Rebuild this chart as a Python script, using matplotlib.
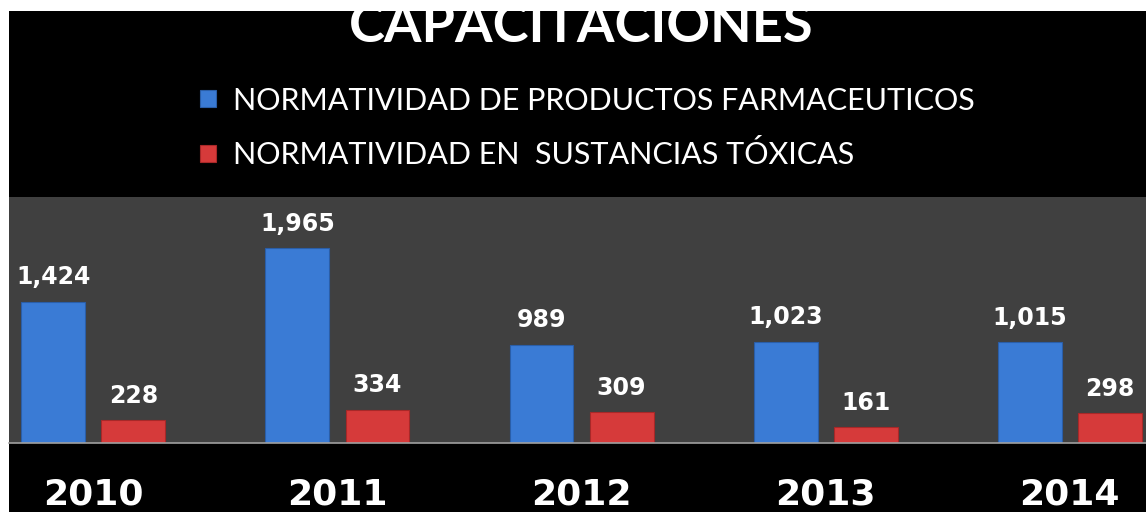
import numpy as np
import matplotlib.pyplot as plt
from matplotlib.patches import Rectangle

years = ["2010", "2011", "2012", "2013", "2014"]
farmaceuticos = [1424, 1965, 989, 1023, 1015]
toxicas = [228, 334, 309, 161, 298]
series_names = ["NORMATIVIDAD DE PRODUCTOS FARMACEUTICOS",
                "NORMATIVIDAD EN  SUSTANCIAS TÓXICAS"]

blue = "#3a7bd5"
red = "#d63a3a"

fig = plt.figure(figsize=(11.46, 5.12), dpi=100)
fig.patch.set_facecolor("white")
# black panel, white strip on top and left
fig.patches.append(Rectangle((9/1146, 0), 1, 1 - 11/512, transform=fig.transFigure,
                             facecolor="black", edgecolor="none", zorder=-10))

ax = fig.add_axes([9/1146, 69/512, 1 - 9/1146, 246/512])
ax.set_facecolor("#404040")

x = np.arange(len(years))
w = 0.262
off = 0.164
b1 = ax.bar(x - off, farmaceuticos, w, color=blue, edgecolor="#2a5ea8", linewidth=0.8,
            label=series_names[0])
b2 = ax.bar(x + off, toxicas, w, color=red, edgecolor="#a82828", linewidth=0.8,
            label=series_names[1])

for bars in (b1, b2):
    ax.bar_label(bars, labels=[f"{v:,}" for v in bars.datavalues], padding=9,
                 color="white", fontsize=17, fontweight="bold",
                 family="DejaVu Sans")

ax.set_xlim(-0.346, 4.313)
ax.set_ylim(0, 2480)
ax.set_yticks([])
ax.set_xticks(x)
ax.set_xticklabels(years, fontsize=26, fontweight="bold", color="white",
                   family="DejaVu Sans")
ax.tick_params(axis="x", length=0, pad=25)
for s in ["top", "left", "right"]:
    ax.spines[s].set_visible(False)
ax.spines["bottom"].set_color("#a0a0a0")
ax.spines["bottom"].set_linewidth(1.2)

fig.text(581/1146, 1 - 27/512, "CAPACITACIONES", ha="center", va="center",
         color="white", fontsize=39, fontweight="bold", family="Lato", zorder=1)
fig.patches.append(Rectangle((0, 1 - 11/512), 1, 11/512, transform=fig.transFigure,
                             facecolor="white", edgecolor="none", zorder=20))

leg = fig.legend(handles=[b1, b2], loc="upper left",
                 bbox_to_anchor=(172/1146, 1 - 59/512), frameon=False,
                 prop={"family": "Lato", "size": 22}, labelcolor="white",
                 handlelength=0.55, handleheight=0.45, handletextpad=0.55,
                 labelspacing=0.85)

fig.savefig("out.png", dpi=100, facecolor=fig.get_facecolor())
